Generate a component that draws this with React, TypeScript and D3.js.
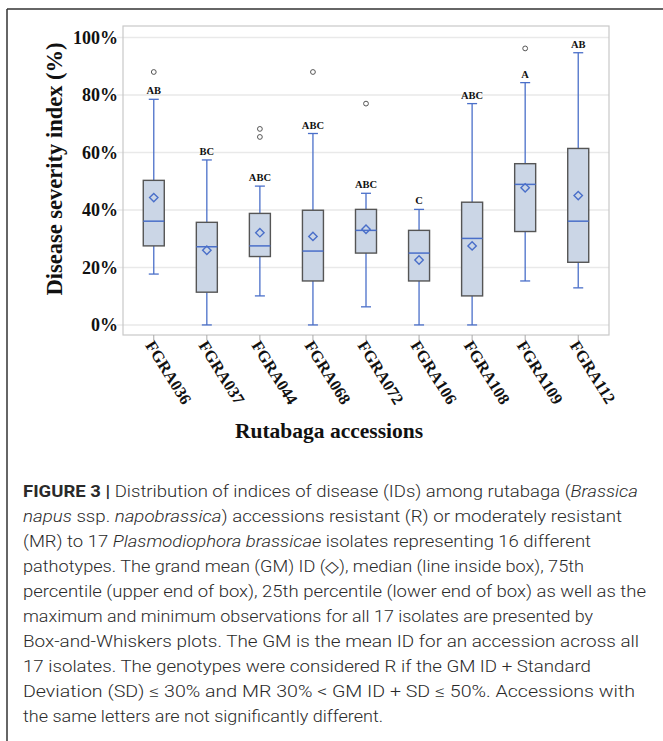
import React from 'react';
import * as d3 from 'd3';

// Rutabaga accessions and their box-and-whisker summaries (disease severity index, %)
const accessions = ['FGRA036', 'FGRA037', 'FGRA044', 'FGRA068', 'FGRA072', 'FGRA106', 'FGRA108', 'FGRA109', 'FGRA112'];
const whiskerLow = [17.7, 0, 10.1, 0, 6.3, 0, 0, 15.3, 12.9];
const lowerQuartile = [27.5, 11.4, 23.8, 15.3, 25.0, 15.3, 10.1, 32.5, 21.8];
const medians = [36.1, 27.2, 27.5, 25.7, 32.9, 25.0, 30.1, 48.9, 36.1];
const upperQuartile = [50.3, 35.7, 38.8, 39.9, 40.2, 32.9, 42.7, 56.1, 61.4];
const whiskerHigh = [78.5, 57.4, 48.3, 66.6, 45.8, 40.2, 77.0, 84.3, 94.7];
const grandMeans = [44.3, 26.0, 32.1, 30.8, 33.3, 22.6, 27.5, 47.7, 45.0];
const outliers: number[][] = [[88], [], [68.2, 65.4], [88], [77.0], [], [], [96.2], []];
const groupLetters = ['AB', 'BC', 'ABC', 'ABC', 'ABC', 'C', 'ABC', 'A', 'AB'];
const yTicks = [0, 20, 40, 60, 80, 100];

type Seg = { t: string; b?: boolean; i?: boolean };
const captionLines: { segs: Seg[]; width?: number }[] = [
  { segs: [{ t: 'FIGURE 3 | ', b: true }, { t: 'Distribution of indices of disease (IDs) among rutabaga (' }, { t: 'Brassica', i: true }], width: 615 },
  { segs: [{ t: 'napus', i: true }, { t: ' ssp. ' }, { t: 'napobrassica', i: true }, { t: ') accessions resistant (R) or moderately resistant' }], width: 599 },
  { segs: [{ t: '(MR) to 17 ' }, { t: 'Plasmodiophora brassicae', i: true }, { t: ' isolates representing 16 different' }], width: 568 },
  { segs: [{ t: 'pathotypes. The grand mean (GM) ID (\u25C7), median (line inside box), 75th' }], width: 561 },
  { segs: [{ t: 'percentile (upper end of box), 25th percentile (lower end of box) as well as the' }], width: 623 },
  { segs: [{ t: 'maximum and minimum observations for all 17 isolates are presented by' }], width: 570 },
  { segs: [{ t: 'Box-and-Whiskers plots. The GM is the mean ID for an accession across all' }], width: 616 },
  { segs: [{ t: '17 isolates. The genotypes were considered R if the GM ID + Standard' }], width: 568 },
  { segs: [{ t: 'Deviation (SD) \u2264 30% and MR 30% < GM ID + SD \u2264 50%. Accessions with' }], width: 612 },
  { segs: [{ t: 'the same letters are not significantly different.' }], width: 360 },
];

const W = 663;
const H = 741;
const plot = { left: 123, right: 609, top: 26, bottom: 335 };

export default function App() {
  const x = d3.scalePoint<string>().domain(accessions).range([plot.left, plot.right]).padding(0.58);
  const y = d3.scaleLinear().domain([-3.5, 104]).range([plot.bottom, plot.top]);

  const boxHalf = 10.5;
  const capHalf = 5;
  const blue = '#4a6fc9';
  const serif = '"Liberation Serif", "Times New Roman", serif';
  const sans = 'Roboto, "Liberation Sans", Arial, sans-serif';

  const diamond = (cx: number, cy: number, r: number) =>
    `M${cx},${cy - r}L${cx + r},${cy}L${cx},${cy + r}L${cx - r},${cy}Z`;

  return (
    <svg width={W} height={H} style={{ position: 'absolute', left: 0, top: 0, background: '#fff' }}>
      {/* figure frame */}
      <line x1={7} y1={9} x2={W} y2={9} stroke="#333" strokeWidth={1.5} />
      <line x1={7} y1={9} x2={7} y2={H} stroke="#333" strokeWidth={1.5} />

      {/* gridlines and y ticks */}
      {yTicks.map((t) => (
        <g key={t}>
          <line x1={plot.left - 6} x2={plot.right} y1={y(t)} y2={y(t)} stroke="#e9e9e9" strokeWidth={1.5} />
          <text
            x={118}
            y={y(t)}
            dy="0.35em"
            textAnchor="end"
            fontFamily={serif}
            fontWeight="bold"
            fontSize={18}
            fill="#111"
          >
            {`${t}%`}
          </text>
        </g>
      ))}

      {/* plot frame */}
      <rect
        x={plot.left}
        y={plot.top}
        width={plot.right - plot.left}
        height={plot.bottom - plot.top}
        fill="none"
        stroke="#c9c9c9"
        strokeWidth={1.2}
      />

      {/* boxes */}
      {accessions.map((a, i) => {
        const cx = x(a) as number;
        return (
          <g key={a}>
            <line x1={cx} x2={cx} y1={y(whiskerHigh[i])} y2={y(upperQuartile[i])} stroke={blue} strokeWidth={1.3} />
            <line x1={cx} x2={cx} y1={y(lowerQuartile[i])} y2={y(whiskerLow[i])} stroke={blue} strokeWidth={1.3} />
            <line x1={cx - capHalf} x2={cx + capHalf} y1={y(whiskerHigh[i])} y2={y(whiskerHigh[i])} stroke={blue} strokeWidth={1.3} />
            <line x1={cx - capHalf} x2={cx + capHalf} y1={y(whiskerLow[i])} y2={y(whiskerLow[i])} stroke={blue} strokeWidth={1.3} />
            <rect
              x={cx - boxHalf}
              y={y(upperQuartile[i])}
              width={boxHalf * 2}
              height={y(lowerQuartile[i]) - y(upperQuartile[i])}
              fill="#cbd6e6"
              stroke="#555"
              strokeWidth={1.4}
            />
            <line x1={cx - boxHalf} x2={cx + boxHalf} y1={y(medians[i])} y2={y(medians[i])} stroke={blue} strokeWidth={1.5} />
            <path d={diamond(cx, y(grandMeans[i]), 4.2)} fill="none" stroke={blue} strokeWidth={1.4} />
            {outliers[i].map((o, j) => (
              <circle key={j} cx={cx} cy={y(o)} r={2.4} fill="none" stroke="#555" strokeWidth={1} />
            ))}
            <text
              x={cx}
              y={y(whiskerHigh[i]) - 5}
              textAnchor="middle"
              fontFamily={serif}
              fontWeight="bold"
              fontSize={10.5}
              fill="#111"
            >
              {groupLetters[i]}
            </text>
            {/* x tick and label */}
            <line x1={cx} x2={cx} y1={plot.bottom} y2={plot.bottom + 5} stroke="#aaa" strokeWidth={1} />
            <text
              transform={`translate(${cx + 1},${plot.bottom + 4}) rotate(58)`}
              dy="0.71em"
              fontFamily={serif}
              fontWeight="bold"
              fontSize={16.5}
              fill="#111"
            >
              {a}
            </text>
          </g>
        );
      })}

      {/* axis titles */}
      <text
        transform={`translate(62,169) rotate(-90)`}
        textAnchor="middle"
        fontFamily={serif}
        fontWeight="bold"
        fontSize={22.5}
        fill="#111"
      >
        Disease severity index (%)
      </text>
      <text x={329} y={438} textAnchor="middle" fontFamily={serif} fontWeight="bold" fontSize={21.5} fill="#111">
        Rutabaga accessions
      </text>

      {/* caption */}
      {captionLines.map((ln, k) => (
        <text
          key={k}
          x={23}
          y={497 + k * 25}
          fontFamily={sans}
          fontWeight={300}
          fontSize={16}
          fill="#2a2a2a"
          textLength={ln.width}
          lengthAdjust="spacingAndGlyphs"
        >
          {ln.segs.map((s, j) => (
            <tspan key={j} fontWeight={s.b ? 'bold' : undefined} fontStyle={s.i ? 'italic' : undefined}>
              {s.t}
            </tspan>
          ))}
        </text>
      ))}
    </svg>
  );
}
